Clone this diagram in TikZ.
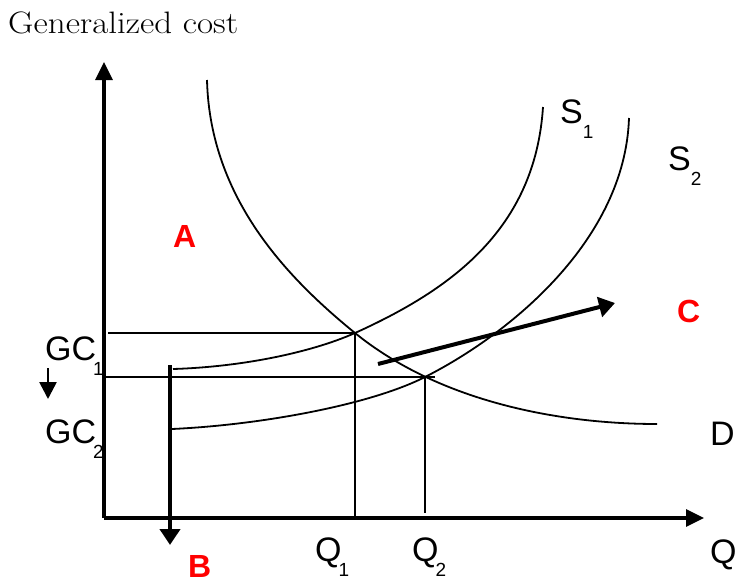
\documentclass[tikz,border=0pt]{standalone}
\usepackage{fontspec}
\setsansfont{Liberation Sans}
\usetikzlibrary{arrows.meta}
\tikzset{
  axisline/.style={line width=3.2pt, -{Triangle[length=18pt,width=17pt]}},
  guide/.style={line width=1.8pt},
  schedule/.style={line width=1.8pt},
  move/.style={line width=4pt, -{Triangle[length=16pt,width=20pt]}},
  nudge/.style={line width=2.6pt, -{Triangle[length=17pt,width=17pt]}},
  lab/.style={font=\sffamily\fontsize{34}{34}\selectfont, anchor=base west, inner sep=0pt},
  zone/.style={font=\sffamily\bfseries\fontsize{32}{32}\selectfont, text=red, anchor=base west, inner sep=0pt},
  title/.style={font=\rmfamily\fontsize{31}{31}\selectfont, anchor=base west, inner sep=0pt}
}
\newcommand{\subidx}[3][-3pt]{#2\kern#1\raisebox{-15pt}{\fontsize{19}{19}\selectfont #3}}

\begin{document}
\begin{tikzpicture}[x=1pt,y=-1pt]
  \useasboundingbox (0,0) rectangle (736,581);

  % axes
  \coordinate (O) at (104,518);
  \coordinate (ytop) at (104,62);
  \coordinate (xend) at (704,518);
  \draw[axisline] (O) -- (ytop);
  \draw[axisline] (O) -- (xend);

  % equilibria
  \coordinate (eq1) at (355,333);
  \coordinate (eq2) at (425,377);
  \coordinate (gc1) at (108,333);
  \coordinate (gc2) at (104,377);
  \coordinate (gc2end) at (435,377);
  \coordinate (q1) at (355,518);
  \coordinate (q2) at (425,513);
  \draw[guide] (gc1) -- (eq1);
  \draw[guide] (gc2) -- (gc2end);
  \draw[guide] (eq1) -- (q1);
  \draw[guide] (eq2) -- (q2);

  % demand and supply curves
  \coordinate (dtop) at (207,80);
  \coordinate (dend) at (657,424);
  \coordinate (s1low) at (173,369);
  \coordinate (s1top) at (543,107);
  \coordinate (s2low) at (172,429);
  \coordinate (s2top) at (629,118);
  \draw[schedule] (dtop) .. controls (210,200) and (290,280) .. (eq1)
                         .. controls (440,402) and (560,424) .. (dend);
  \draw[schedule] (s1low) .. controls (240,367) and (310,353) .. (eq1)
                          .. controls (450,290) and (535,230) .. (s1top);
  \draw[schedule] (s2low) .. controls (260,425) and (370,405) .. (eq2)
                          .. controls (510,334) and (625,240) .. (s2top);

  % shifts
  \coordinate (cfrom) at (378,364);
  \coordinate (cto) at (615,303);
  \coordinate (bfrom) at (170,365);
  \coordinate (bto) at (170,545);
  \coordinate (gfrom) at (48,368);
  \coordinate (gto) at (48,399);
  \draw[move] (cfrom) -- (cto);
  \draw[move] (bfrom) -- (bto);
  \draw[nudge] (gfrom) -- (gto);

  % labels
  \node[title] (ylab) at (8,33) {\scalebox{1.13}[1]{Generalized cost}};
  \node[lab] (lgc1) at (45,360) {\subidx{GC}{1}};
  \node[lab] (lgc2) at (45,443) {\subidx{GC}{2}};
  \node[lab] (ls1) at (560,123) {\subidx[0pt]{S}{1}};
  \node[lab] (ls2) at (668,170) {\subidx[0pt]{S}{2}};
  \node[lab] (lq1) at (315,561) {\subidx{Q}{1}};
  \node[lab] (lq2) at (412,561) {\subidx{Q}{2}};
  \node[lab] (ld) at (710,445) {D};
  \node[lab] (lq) at (710,563) {Q};
  \node[zone] (za) at (173,247) {A};
  \node[zone] (zb) at (188,577) {B};
  \node[zone] (zc) at (677,322) {C};
\end{tikzpicture}
\end{document}
